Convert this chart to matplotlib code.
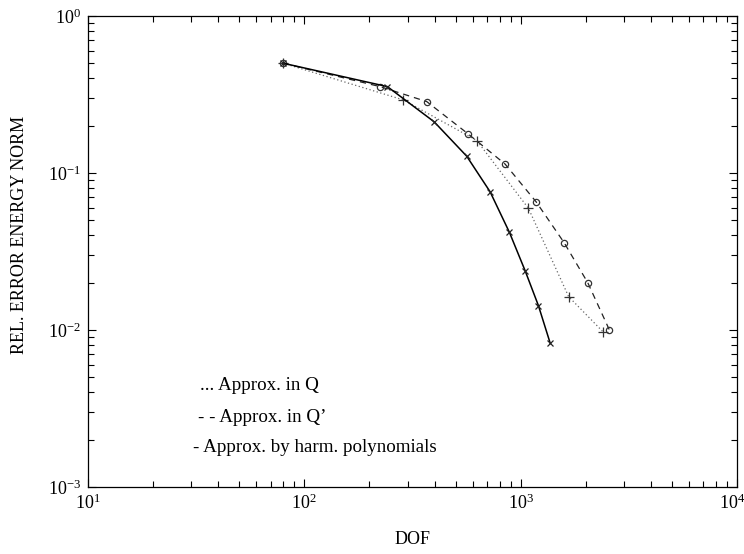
import matplotlib
matplotlib.use("Agg")
import matplotlib.pyplot as plt
import matplotlib.transforms as mtransforms
from matplotlib.ticker import LogLocator, FixedLocator, FixedFormatter, NullFormatter

plt.rcParams['font.family'] = ['Liberation Serif', 'DejaVu Serif']
plt.rcParams['mathtext.fontset'] = 'custom'
plt.rcParams['mathtext.rm'] = 'Liberation Serif'
plt.rcParams['mathtext.it'] = 'Liberation Serif'

# Approx. in Q (dotted, '+')
dof_q = [80, 287, 627, 1086, 1667, 2399]
err_q = [0.50, 0.292, 0.161, 0.0596, 0.0163, 0.00976]

# Approx. in Q' (dashed, 'o')
dof_qp = [80, 224, 368, 573, 847, 1178, 1588, 2043, 2572]
err_qp = [0.50, 0.355, 0.285, 0.177, 0.114, 0.0656, 0.036, 0.020, 0.0100]

# Approx. by harmonic polynomials (solid, 'x')
dof_h = [80, 242, 398, 563, 722, 887, 1048, 1208, 1367]
err_h = [0.50, 0.355, 0.212, 0.128, 0.076, 0.0419, 0.0239, 0.0143, 0.0083]

x_ticks = [10, 100, 1000, 10000]
x_labels = [r'$\mathregular{10^{1}}$', r'$\mathregular{10^{2}}$',
            r'$\mathregular{10^{3}}$', r'$\mathregular{10^{4}}$']
y_ticks = [0.001, 0.01, 0.1, 1.0]
y_labels = [r'$\mathregular{10^{-3}}$', r'$\mathregular{10^{-2}}$',
            r'$\mathregular{10^{-1}}$', r'$\mathregular{10^{0}}$']

legend_texts = ["... Approx. in Q", "- - Approx. in Q\u2019", "- Approx. by harm. polynomials"]

fig = plt.figure(figsize=(7.44, 5.54), dpi=100)
ax = fig.add_axes([88/744, 1 - 487/554, (737 - 88)/744, (487 - 16)/554])

ax.plot(dof_q, err_q, color='#666666', lw=0.9, linestyle=(0, (1, 2)),
        marker='+', ms=7, mew=0.9, mec='#333333')
ax.plot(dof_qp, err_qp, color='#222222', lw=0.9, linestyle=(0, (5, 4)),
        marker='o', ms=4.5, mew=0.9, mfc='none', mec='#333333')
ax.plot(dof_h, err_h, color='black', lw=1.1, linestyle='-',
        marker='x', ms=5, mew=0.9, mec='#222222')

ax.set_xscale('log')
ax.set_yscale('log')
ax.set_xlim(10, 10000)
ax.set_ylim(0.001, 1.0)

ax.xaxis.set_major_locator(FixedLocator(x_ticks))
ax.xaxis.set_major_formatter(FixedFormatter(x_labels))
ax.yaxis.set_major_locator(FixedLocator(y_ticks))
ax.yaxis.set_major_formatter(FixedFormatter(y_labels))
ax.xaxis.set_minor_locator(LogLocator(base=10, subs=range(2, 10)))
ax.yaxis.set_minor_locator(LogLocator(base=10, subs=range(2, 10)))
ax.xaxis.set_minor_formatter(NullFormatter())
ax.yaxis.set_minor_formatter(NullFormatter())

ax.tick_params(which='both', direction='in', top=True, right=True,
               width=0.8, labelsize=13, colors='black')
ax.tick_params(which='major', length=6, pad=5)
ax.tick_params(which='minor', length=4)
for s in ax.spines.values():
    s.set_linewidth(0.9)

ax.set_xlabel('DOF', fontsize=13)
ax.xaxis.set_label_coords(0.5, -(540 - 487)/471, transform=ax.transAxes)
ax.xaxis.label.set_va('center')
ax.set_ylabel('REL. ERROR ENERGY NORM', fontsize=13)
ax.yaxis.set_label_coords(-(88 - 20)/649, (487 - 235)/471, transform=ax.transAxes)
ax.yaxis.label.set_va('center')

fig.canvas.draw()
last = ax.get_xticklabels()[-1]
last.set_transform(last.get_transform() + mtransforms.ScaledTranslation(-5/100, 0, fig.dpi_scale_trans))

ys = [386, 417, 448]
xs = [200, 198, 193]
for t, x, y in zip(legend_texts, xs, ys):
    fig.text(x/744, 1 - y/554, t, fontsize=13.7, ha='left', va='center')

fig.savefig('out.png', dpi=100)
